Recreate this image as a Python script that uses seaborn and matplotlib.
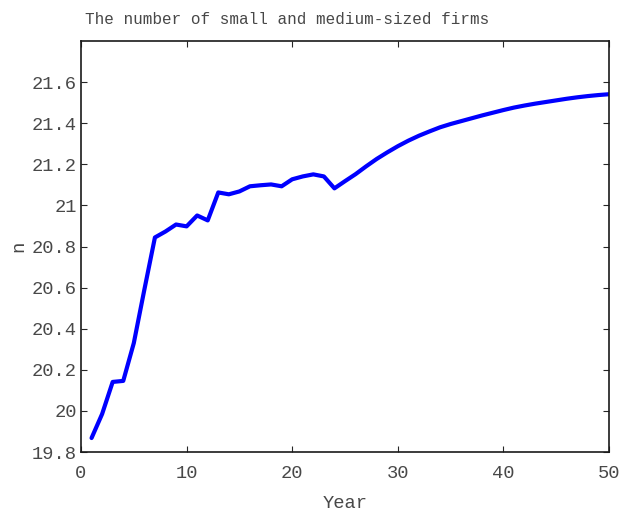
import matplotlib
matplotlib.use("Agg")
import matplotlib.pyplot as plt
import seaborn as sns
import pandas as pd

years = list(range(1, 51))
firms = [19.868, 19.985, 20.141, 20.146, 20.330, 20.590, 20.844, 20.873, 20.907, 20.898,
         20.951, 20.927, 21.063, 21.054, 21.068, 21.093, 21.098, 21.102, 21.093, 21.127,
         21.141, 21.151, 21.141, 21.083, 21.118, 21.152, 21.190, 21.226, 21.258, 21.288,
         21.315, 21.339, 21.360, 21.380, 21.396, 21.410, 21.424, 21.438, 21.451, 21.464,
         21.476, 21.486, 21.495, 21.503, 21.511, 21.519, 21.526, 21.532, 21.537, 21.541]
x_ticks = [0, 10, 20, 30, 40, 50]
y_ticks = [19.8, 20.0, 20.2, 20.4, 20.6, 20.8, 21.0, 21.2, 21.4, 21.6]
y_labels = ["19.8", "20", "20.2", "20.4", "20.6", "20.8", "21", "21.2", "21.4", "21.6"]

sns.set_style("ticks")
plt.rcParams['font.family'] = ['Liberation Mono', 'DejaVu Sans Mono']
plt.rcParams['xtick.direction'] = 'in'
plt.rcParams['ytick.direction'] = 'in'

df = pd.DataFrame({"Year": years, "n": firms})

fig = plt.figure(figsize=(6.3, 5.11), dpi=100)
ax = fig.add_axes([81/630, 59/511, 528/630, 411/511])
sns.lineplot(data=df, x="Year", y="n", ax=ax, color=(0, 0, 1), linewidth=3.0)

txt = '#484848'
ax.set_xlim(0, 50)
ax.set_ylim(19.8, 21.8)
ax.set_xticks(x_ticks)
ax.set_xticklabels([str(t) for t in x_ticks])
ax.set_yticks(y_ticks)
ax.set_yticklabels(y_labels)
ax.tick_params(axis='both', which='both', top=True, right=True, length=4, width=0.8,
               labelsize=13.5, colors='#262626', labelcolor=txt)
ax.tick_params(axis='x', pad=9)
ax.tick_params(axis='y', pad=3)
for s in ax.spines.values():
    s.set_visible(True)
    s.set_linewidth(1.2)
    s.set_color('#1a1a1a')

ax.set_xlabel("Year", fontsize=13.5, color=txt, labelpad=10)
ax.set_ylabel("n", fontsize=13.5, color=txt, labelpad=3)
ax.set_title("The number of small and medium-sized firms", fontsize=11.5, color=txt,
             x=0.39, pad=12)

fig.savefig("out.png", dpi=100)
